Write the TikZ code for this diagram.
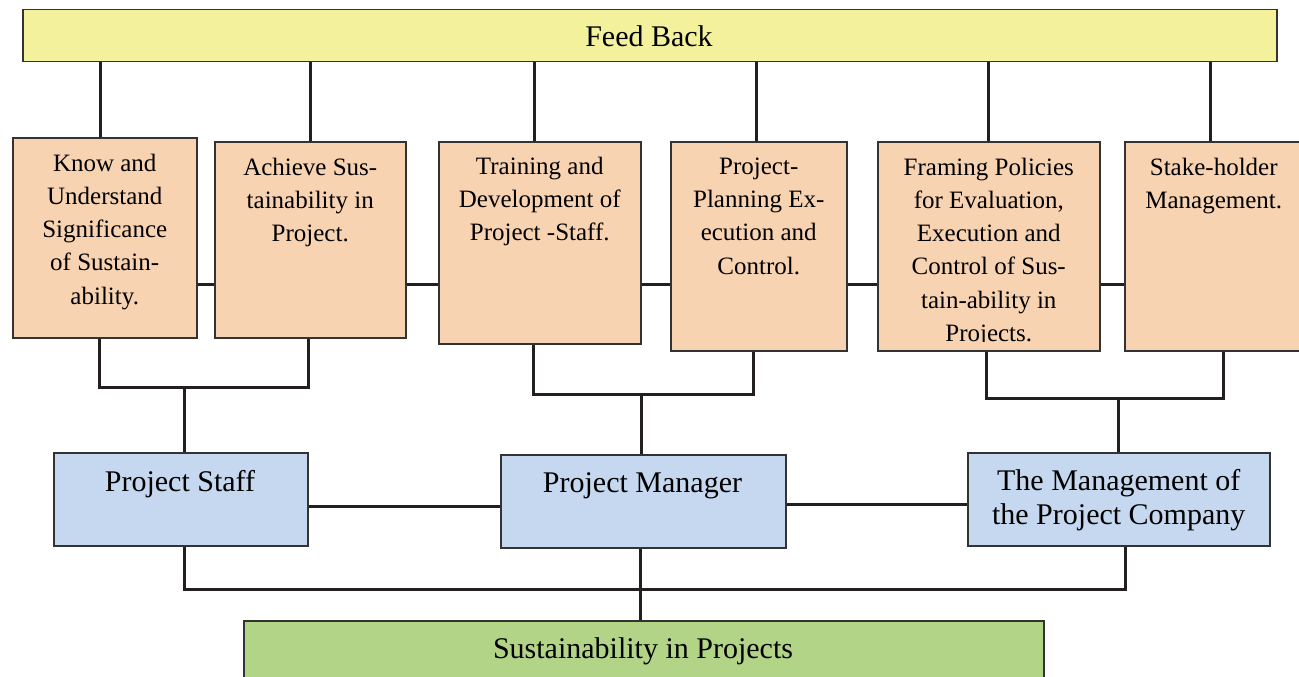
\documentclass[tikz,border=0pt]{standalone}
\usepackage{fontspec}
\setmainfont{Liberation Serif}
\definecolor{yfill}{RGB}{244,241,157}
\definecolor{ofill}{RGB}{248,211,178}
\definecolor{bfill}{RGB}{197,216,239}
\definecolor{gfill}{RGB}{177,212,134}
\definecolor{boxline}{RGB}{51,51,51}
\definecolor{linec}{RGB}{35,31,32}
\begin{document}
\begin{tikzpicture}[x=1pt,y=-1pt,
  box/.style={draw=boxline, line width=1.5pt, inner sep=0pt, anchor=north west},
  obox/.style={box, fill=ofill},
  bbox/.style={box, fill=bfill},
  otext/.style={font=\fontsize{25}{33.3}\selectfont, align=center, inner sep=0pt, anchor=north, text=black},
  btext/.style={font=\fontsize{30}{34}\selectfont, align=center, inner sep=0pt, text=black},
  link/.style={line width=3pt, draw=linec}]
\useasboundingbox (0,0) rectangle (1299,677);
\clip (0,0) rectangle (1299,677);
% top bar
\node[box, fill=yfill, minimum width=1254pt, minimum height=52pt] (fb) at (22,9) {};
\node[btext, anchor=base] (fbt) at (649,47) {Feed Back};
% orange boxes
\node[obox, minimum width=184pt, minimum height=200pt] (k1) at (12,137) {};
\node[obox, minimum width=191pt, minimum height=196pt] (k2) at (214,141) {};
\node[obox, minimum width=202pt, minimum height=202pt] (k3) at (438,141) {};
\node[obox, minimum width=176pt, minimum height=209pt] (k4) at (670,141) {};
\node[obox, minimum width=222pt, minimum height=209pt] (k5) at (877,141) {};
\node[obox, minimum width=178pt, minimum height=209pt] (k6) at (1124,141) {};
\node[otext] (t1) at ([yshift=-16.5pt]k1.north) {Know and\\Understand\\Significance\\of Sustain-\\ability.};
\node[otext] (t2) at ([yshift=-16.5pt]k2.north) {Achieve Sus-\\tainability in\\Project.};
\node[otext] (t3) at ([yshift=-15.5pt]k3.north) {Training and\\Development of\\Project -Staff.};
\node[otext] (t4) at ([yshift=-16.5pt]k4.north) {Project-\\Planning Ex-\\ecution and\\Control.};
\begin{scope}
\clip (877,141) rectangle (1099,341);
\node[otext] (t5) at ([yshift=-16.5pt]k5.north) {Framing Policies\\for Evaluation,\\Execution and\\Control of Sus-\\tain-ability in\\Projects.};
\end{scope}
\node[otext] (t6) at ([yshift=-16.5pt]k6.north) {Stake-holder\\Management.};
% blue boxes
\node[bbox, minimum width=254pt, minimum height=93pt] (ps) at (53,452) {};
\node[bbox, minimum width=285pt, minimum height=93pt] (pm) at (500,454) {};
\node[bbox, minimum width=302pt, minimum height=93pt] (mg) at (967,452) {};
\node[btext, anchor=base] (pst) at (180,491) {Project Staff};
\node[btext, anchor=base] (pmt) at (642.5,492) {Project Manager};
\node[btext, anchor=north] (mgt) at ([yshift=-17pt]mg.north) {The Management of\\the Project Company};
% green box
\node[box, fill=gfill, minimum width=800pt, minimum height=70pt] (sp) at (243,620) {};
\node[btext, anchor=base] (spt) at (643,658) {Sustainability in Projects};
% coordinates
\coordinate (h1) at (0,284);
\coordinate (h2) at (0,506);
\coordinate (h3) at (0,504);
\coordinate (b1) at (184,387);
\coordinate (b2) at (641,394);
\coordinate (b3) at (1118,398);
\coordinate (bus1) at (184,589);
\coordinate (bus2) at (1125,589);
% links from feedback bar
\draw[link] ([xshift=-4pt]k1.north) -- ([xshift=-4pt]k1.north |- fb.south);
\draw[link] (k2.north) -- (k2.north |- fb.south);
\draw[link] ([xshift=-5pt]k3.north) -- ([xshift=-5pt]k3.north |- fb.south);
\draw[link] ([xshift=-2pt]k4.north) -- ([xshift=-2pt]k4.north |- fb.south);
\draw[link] (k5.north) -- (k5.north |- fb.south);
\draw[link] ([xshift=-3pt]k6.north) -- ([xshift=-3pt]k6.north |- fb.south);
% horizontal chain
\draw[link] (k1.east |- h1) -- (k2.west |- h1);
\draw[link] (k2.east |- h1) -- (k3.west |- h1);
\draw[link] (k3.east |- h1) -- (k4.west |- h1);
\draw[link] (k4.east |- h1) -- (k5.west |- h1);
\draw[link] (k5.east |- h1) -- (k6.west |- h1);
% brackets
\draw[link] ([xshift=-5pt]k1.south) |- (b1) -| ([xshift=-1.5pt]k2.south);
\draw[link] (b1) -- (b1 |- ps.north);
\draw[link] ([xshift=-6pt]k3.south) |- (b2) -| ([xshift=-5pt]k4.south);
\draw[link] (b2) -- (b2 |- pm.north);
\draw[link] ([xshift=-2pt]k5.south) |- (b3) -| ([xshift=10pt]k6.south);
\draw[link] (b3) -- (b3 |- mg.north);
% blue links
\draw[link] (ps.east |- h2) -- (pm.west |- h2);
\draw[link] (pm.east |- h3) -- (mg.west |- h3);
% bottom bus
\draw[link] (bus1 |- ps.south) -- (bus1) -- (bus2) -- (bus2 |- mg.south);
\draw[link] ([xshift=-2.5pt]pm.south) -- ([xshift=-2.5pt]pm.south |- sp.north);
\end{tikzpicture}
\end{document}
